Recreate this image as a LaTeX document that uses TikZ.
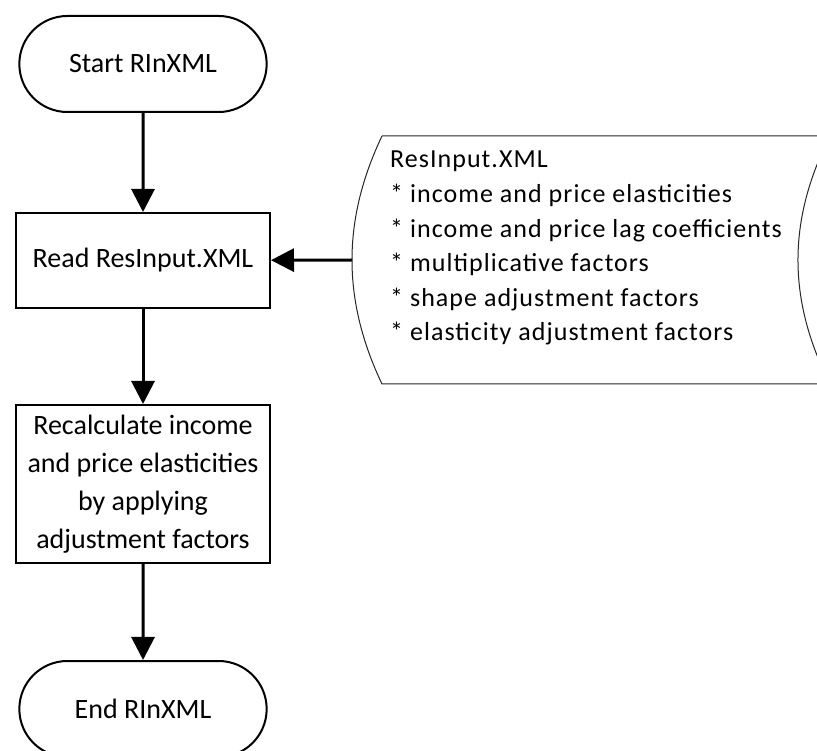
\documentclass[tikz,border=0pt]{standalone}
\usepackage{fontspec}
\setmainfont{Carlito}
\newfontfamily\widefont[LetterSpace=4]{Carlito}
\usetikzlibrary{arrows.meta,shapes.misc,positioning}

\begin{document}
\begin{tikzpicture}[x=1pt, y=-1pt]
	% Define styles for the flowchart
	\tikzstyle{every node}=[font=\fontsize{28}{38}\selectfont, align=center]
	\tikzstyle{terminal}=[draw, line width=2pt, rounded rectangle, minimum width=254pt, minimum height=96pt]
	\tikzstyle{process}=[draw, line width=2pt, rectangle, minimum width=254pt]
	\tikzstyle{flow}=[line width=3pt, -{Triangle[length=23pt, width=23pt]}]
	
	\useasboundingbox (0,0) rectangle (817,751);
	
	\node[terminal] (start) at (143,64) {Start RInXML};
	\node[process, minimum height=95pt] (read) at (143,260.5) {Read ResInput.XML};
	\node[process, minimum height=158pt] (recalc) at (143,484) {Recalculate income\\and price elasticities\\by applying\\adjustment factors};
	\node[terminal] (end) at (143,709) {End RInXML};
	
	% stored data shape for the input file
	\draw[line width=1pt, draw=black!85] (382,136) -- (830,136)
		.. controls (787.3,220) and (787.3,300) .. (830,384) -- (382,384)
		.. controls (342,300) and (342,220) .. (382,136);
	\coordinate (input) at (352,260);
	\node[anchor=north west, inner sep=0pt, align=left, font=\widefont\fontsize{26}{34.6}\selectfont] (inputtext) at (390,151)
		{ResInput.XML\\
		* income and price elasticities\\
		* income and price lag coefficients\\
		* multiplicative factors\\
		* shape adjustment factors\\
		* elasticity adjustment factors};
	
	\draw[flow] (start) -- (read);
	\draw[flow] (read) -- (recalc);
	\draw[flow] (recalc) -- (end);
	\draw[flow] (input) -- (read);
\end{tikzpicture}
\end{document}
